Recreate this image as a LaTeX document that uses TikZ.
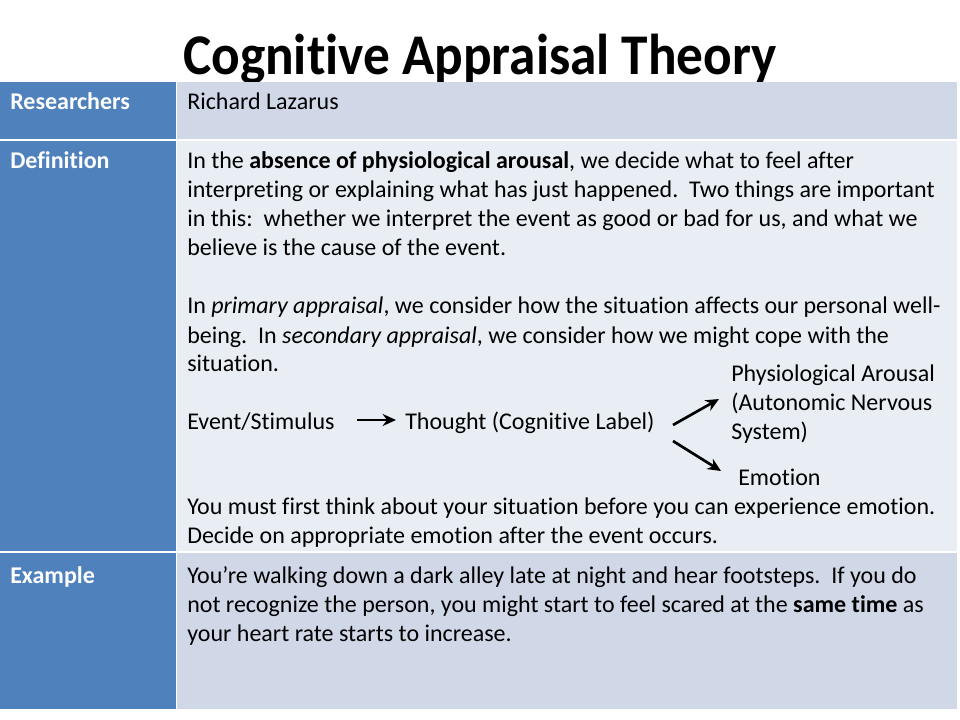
\documentclass[tikz,border=0pt]{standalone}
\usepackage{fontspec}
\setmainfont{Carlito}[Ligatures={NoCommon,NoRare,NoContextual},RawFeature={-liga;-clig;-calt;-dlig;-rlig}]
\usetikzlibrary{arrows.meta}
\definecolor{hdrblue}{HTML}{4F81BD}
\definecolor{rowA}{HTML}{D0D8E8}
\definecolor{rowB}{HTML}{E9EDF4}
\tikzset{
  txt/.style={anchor=base west, inner sep=0pt, font=\fontsize{18pt}{21.75pt}\selectfont, text=black},
  hdr/.style={txt, font=\fontsize{18pt}{21.75pt}\selectfont\bfseries, text=white},
  flow/.style={-{Stealth[length=10pt,width=9pt]}, line width=2pt, black}
}
\begin{document}
\begin{tikzpicture}[x=0.75pt,y=-0.75pt]
\useasboundingbox (0,0) rectangle (960,720);
\fill[white] (0,0) rectangle (960,720);
% title
\node[anchor=base, inner sep=0pt, font=\fontsize{40pt}{48pt}\selectfont\bfseries, yscale=1.08] (title) at (480,75) {Cognitive Appraisal Theory};
% table cells
\fill[hdrblue] (0,82) rectangle (176,139);
\fill[rowA] (177,82) rectangle (957,139);
\fill[hdrblue] (0,141) rectangle (176,551);
\fill[rowB] (177,141) rectangle (957,551);
\fill[hdrblue] (0,553) rectangle (176,709);
\fill[rowA] (177,553) rectangle (957,709);
% row labels
\node[hdr] (r1) at (10,110) {Researchers};
\node[hdr] (r2) at (10,169) {Definition};
\node[hdr] (r3) at (10,583) {Example};
% row 1
\node[txt] (lz) at (187,110) {Richard Lazarus};
% row 2
\node[txt] (d1) at (187,169) {In the \textbf{absence of physiological arousal}, we decide what to feel after};
\node[txt] (d2) at (187,198) {interpreting or explaining what has just happened.\ \ Two things are important};
\node[txt] (d3) at (187,227) {in this:\ \ whether we interpret the event as good or bad for us, and what we};
\node[txt] (d4) at (187,256) {believe is the cause of the event.};
\node[txt] (p1) at (187,314) {In \textit{primary appraisal}, we consider how the situation affects our personal well-};
\node[txt] (p2) at (187,343) {being.\ \ In \textit{secondary appraisal}, we consider how we might cope with the};
\node[txt] (p3) at (187,371) {situation.};
\node[txt] (ev) at (187,429) {Event/Stimulus};
\node[txt] (th) at (405,429) {Thought (Cognitive Label)};
\node[txt] (pa1) at (731,381) {Physiological Arousal};
\node[txt] (pa2) at (731,410) {(Autonomic Nervous};
\node[txt] (pa3) at (731,439) {System)};
\node[txt] (em) at (738,485) {Emotion};
\coordinate (a1s) at (357,420);
\coordinate (a1e) at (396,420);
\coordinate (a2s) at (673,425);
\coordinate (a2e) at (719,399);
\coordinate (a3s) at (673,441);
\coordinate (a3e) at (721,471);
\draw[flow] (a1s) -- (a1e);
\draw[flow] (a2s) -- (a2e);
\draw[flow] (a3s) -- (a3e);
\node[txt] (m1) at (187,514) {You must first think about your situation before you can experience emotion.};
\node[txt] (m2) at (187,543) {Decide on appropriate emotion after the event occurs.};
% row 3
\node[txt] (e1) at (187,583) {You’re walking down a dark alley late at night and hear footsteps.\ \ If you do};
\node[txt] (e2) at (187,612) {not recognize the person, you might start to feel scared at the \textbf{same time} as};
\node[txt] (e3) at (187,641) {your heart rate starts to increase.};
\end{tikzpicture}
\end{document}
